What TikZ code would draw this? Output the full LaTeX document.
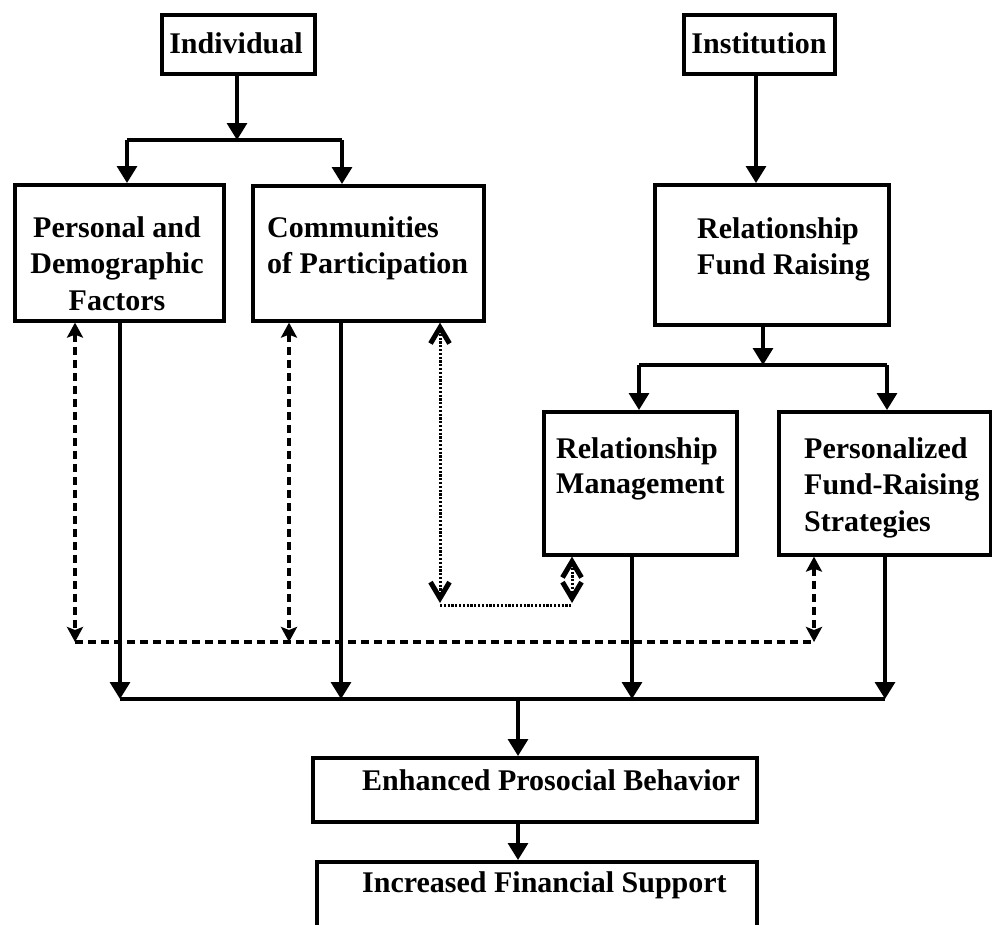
\documentclass[tikz,border=0pt]{standalone}
\usepackage{fontspec}
\setmainfont{Liberation Serif}
\usetikzlibrary{arrows.meta}
\tikzset{
  box/.style={draw, line width=3.6pt, anchor=north west, inner sep=0pt},
  txt/.style={font=\bfseries\fontsize{30}{36.5}\selectfont, inner sep=0pt},
  ln/.style={line width=3.4pt},
  arr/.style={line width=3.2pt, -{Triangle[length=17pt,width=20pt]}},
  dsh/.style={line width=3.6pt, dash pattern=on 8pt off 5pt},
  dshA/.style={dsh, {Stealth[length=15pt,width=16pt,inset=3pt]}-{Stealth[length=15pt,width=16pt,inset=3pt]}},
  dotl/.style={line width=3pt, dash pattern=on 2.2pt off 1.6pt},
  vtip/.tip={Straight Barb[length=16pt,width=19pt,line width=2pt 1]},
  dotA/.style={dotl, vtip-vtip}
}
\begin{document}
\begin{tikzpicture}[x=1pt,y=-1pt]
\clip (0,0) rectangle (992,924);
\fill[white] (0,0) rectangle (992,924);

% boxes
\node[box, minimum width=153pt, minimum height=59pt] (ind) at (160,13) {};
\node[box, minimum width=151pt, minimum height=59pt] (inst) at (682,13) {};
\node[box, minimum width=209pt, minimum height=136pt] (pers) at (13,183) {};
\node[box, minimum width=231pt, minimum height=135pt] (comm) at (251,184) {};
\node[box, minimum width=234pt, minimum height=140pt] (rfr) at (653,183) {};
\node[box, minimum width=193pt, minimum height=143pt] (rm) at (542,410) {};
\node[box, minimum width=212pt, minimum height=143pt] (pfs) at (777,410) {};
\node[box, minimum width=444pt, minimum height=64pt] (enh) at (311,756) {};
\node[box, minimum width=440pt, minimum height=110pt] (inc) at (315,860) {};

% texts
\node[txt, anchor=base] (tind) at (236,53) {Individual};
\node[txt, anchor=base] (tinst) at (759,53) {Institution};
\node[txt, anchor=north, align=center] (tpers) at (117,215) {\rule{0pt}{22pt}Personal and\\Demographic\\Factors};
\node[txt, anchor=north west, align=left] (tcomm) at (267,215) {\rule{0pt}{22pt}Communities\\of Participation};
\node[txt, anchor=north west, align=left] (trfr) at (697,216) {\rule{0pt}{22pt}Relationship\\Fund Raising};
\node[txt, anchor=north west, align=left] (trm) at (556,436) {\rule{0pt}{22pt}Relationship\\[-1.5pt]Management};
\node[txt, anchor=north west, align=left] (tpfs) at (804,436) {\rule{0pt}{22pt}Personalized\\Fund-Raising\\Strategies};
\node[txt, anchor=base west] (tenh) at (362,790) {Enhanced Prosocial Behavior};
\node[txt, anchor=base west] (tinc) at (362,892) {Increased Financial Support};

% junction coordinates
\coordinate (iJ) at (237,140);
\coordinate (iL) at (127,140);
\coordinate (iR) at (342,140);
\coordinate (nJ) at (756,100);
\coordinate (rJ) at (763,365);
\coordinate (rL) at (639,365);
\coordinate (rR) at (887,365);
\coordinate (b1) at (120,699);
\coordinate (b2) at (341,699);
\coordinate (b3) at (632,699);
\coordinate (b4) at (885,699);
\coordinate (bm) at (518,699);
\coordinate (d1) at (75,642);
\coordinate (d2) at (289,642);
\coordinate (d3) at (814,642);
\coordinate (t1) at (440,605);
\coordinate (t1a) at (440,603);
\coordinate (t2) at (572,605);
\coordinate (t2a) at (572,603);

% individual branch
\draw[arr] (ind.south -| iJ) -- (iJ);
\draw[ln] (iL) -- (iR);
\draw[arr] (iL) -- (iL |- pers.north);
\draw[arr] (iR) -- (iR |- comm.north);

% institution branch
\draw[arr] (inst.south -| nJ) -- (nJ |- rfr.north);
\draw[arr] (rfr.south -| rJ) -- (rJ);
\draw[ln] (rL) -- (rR);
\draw[arr] (rL) -- (rL |- rm.north);
\draw[arr] (rR) -- (rR |- pfs.north);

% dashed links
\draw[dsh] (d1) -- (d3);
\draw[dshA] (pers.south -| d1) -- (d1);
\draw[dshA] (comm.south -| d2) -- (d2);
\draw[dshA] (pfs.south -| d3) -- (d3);

% dotted links
\draw[dotl] (t1) -- (t2);
\draw[dotA] (comm.south -| t1) -- (t1a);
\draw[dotA] (rm.south -| t2) -- (t2a);

% to outcome bar
\draw[arr] (pers.south -| b1) -- (b1);
\draw[arr] (comm.south -| b2) -- (b2);
\draw[arr] (rm.south -| b3) -- (b3);
\draw[arr] (pfs.south -| b4) -- (b4);
\draw[ln] (b1) -- (b4);
\draw[arr] (bm) -- (bm |- enh.north);
\draw[arr] (enh.south -| bm) -- (bm |- inc.north);
\end{tikzpicture}
\end{document}
